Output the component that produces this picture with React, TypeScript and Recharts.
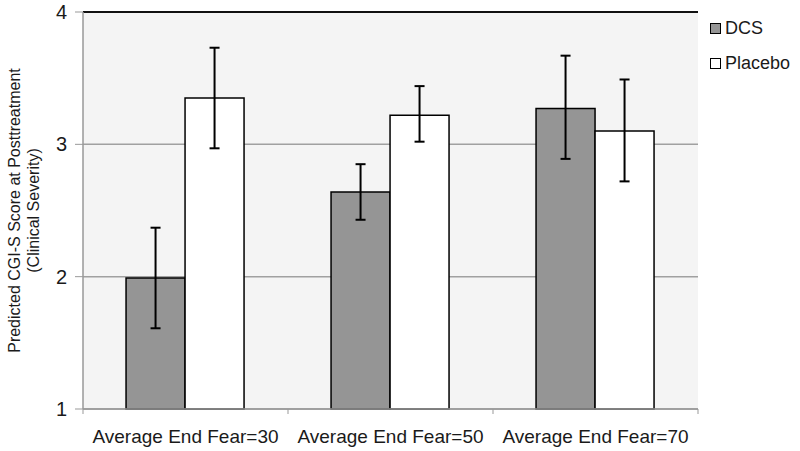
import React from 'react';
import {
  BarChart,
  Bar,
  XAxis,
  YAxis,
  CartesianGrid,
  ErrorBar,
  Legend,
  ReferenceLine,
} from 'recharts';

const categories = ['Average End Fear=30', 'Average End Fear=50', 'Average End Fear=70'];

// predicted means
const dcsValues = [1.99, 2.64, 3.27];
const placeboValues = [3.35, 3.22, 3.10];

// error bar ends (low / high)
const dcsLow = [1.61, 2.43, 2.89];
const dcsHigh = [2.37, 2.85, 3.67];
const placeboLow = [2.97, 3.02, 2.72];
const placeboHigh = [3.73, 3.44, 3.49];

const yTicks = [1, 2, 3, 4];

const FONT = '"Liberation Sans", Arial, sans-serif';

const data = categories.map((name, i) => ({
  name,
  dcs: dcsValues[i],
  placebo: placeboValues[i],
  dcsErr: [dcsValues[i] - dcsLow[i], dcsHigh[i] - dcsValues[i]],
  placeboErr: [placeboValues[i] - placeboLow[i], placeboHigh[i] - placeboValues[i]],
}));

const CategoryTick = (props: any) => {
  const { x, y, payload } = props;
  const half = payload.offset || 0;
  return (
    <g>
      {payload.index === 0 && (
        <line x1={x - half} y1={y} x2={x - half} y2={y + 5} stroke="#999" />
      )}
      <line x1={x + half} y1={y} x2={x + half} y2={y + 5} stroke="#999" />
      <text
        x={x}
        y={y + 27}
        textAnchor="middle"
        dominantBaseline="central"
        fontSize={19}
        fill="#1a1a1a"
        fontFamily={FONT}
      >
        {payload.value}
      </text>
    </g>
  );
};

const YLabel = (props: any) => {
  const vb = props.viewBox || { y: 12, height: 397 };
  const cy = vb.y + vb.height / 2;
  return (
    <g fontFamily={FONT} fontSize={16} fill="#1a1a1a">
      <text x={14} y={cy} textAnchor="middle" dominantBaseline="central" transform={`rotate(-90, 14, ${cy})`}>
        Predicted CGI-S Score at Posttreatment
      </text>
      <text x={33} y={cy} textAnchor="middle" dominantBaseline="central" transform={`rotate(-90, 33, ${cy})`}>
        (Clinical Severity)
      </text>
    </g>
  );
};

const LegendBox = () => {
  const items = [
    { label: 'DCS', fill: '#959595' },
    { label: 'Placebo', fill: '#ffffff' },
  ];
  return (
    <div style={{ fontFamily: FONT, fontSize: 18, color: '#1a1a1a' }}>
      {items.map((it) => (
        <div key={it.label} style={{ display: 'flex', alignItems: 'center', height: 35 }}>
          <span
            style={{
              display: 'inline-block',
              width: 9,
              height: 9,
              background: it.fill,
              border: '1px solid #000',
              marginRight: 4,
            }}
          />
          <span>{it.label}</span>
        </div>
      ))}
    </div>
  );
};

export default function App() {
  return (
    <div style={{ position: 'absolute', left: 0, top: 0, width: 800, height: 451, background: '#fff' }}>
      <BarChart
        width={800}
        height={451}
        data={data}
        margin={{ top: 12, right: 102, left: 0, bottom: 12 }}
        barCategoryGap="21%"
        barGap={0}
      >
        <CartesianGrid vertical={false} fill="#f4f4f4" stroke="#a0a0a0" strokeWidth={1.5} />
        <XAxis
          dataKey="name"
          height={30}
          axisLine={{ stroke: '#999', strokeWidth: 1.5 }}
          tickLine={false}
          tickSize={0}
          tickMargin={0}
          tick={<CategoryTick />}
          interval={0}
        />
        <YAxis
          width={83}
          type="number"
          domain={[1, 4]}
          ticks={yTicks}
          axisLine={{ stroke: '#999', strokeWidth: 1.5 }}
          tickLine={{ stroke: '#999' }}
          tickSize={8}
          tickMargin={8}
          tick={{ fontSize: 20, fill: '#1a1a1a', fontFamily: FONT }}
          label={<YLabel />}
        />
        <YAxis
          yAxisId="right"
          orientation="right"
          width={0}
          domain={[1, 4]}
          tick={false}
          tickLine={false}
          axisLine={{ stroke: '#111', strokeWidth: 2 }}
        />
        <ReferenceLine y={4} stroke="#111" strokeWidth={2} />
        <Legend
          layout="vertical"
          align="center"
          verticalAlign="middle"
          content={<LegendBox />}
          wrapperStyle={{ left: 710, top: 11, width: 90, height: 70 }}
        />
        <Bar dataKey="dcs" name="DCS" fill="#959595" stroke="#000" strokeWidth={1.5} isAnimationActive={false}>
          <ErrorBar dataKey="dcsErr" width={5} stroke="#000" strokeWidth={2} direction="y" />
        </Bar>
        <Bar dataKey="placebo" name="Placebo" fill="#ffffff" stroke="#000" strokeWidth={1.5} isAnimationActive={false}>
          <ErrorBar dataKey="placeboErr" width={5} stroke="#000" strokeWidth={2} direction="y" />
        </Bar>
      </BarChart>
    </div>
  );
}
